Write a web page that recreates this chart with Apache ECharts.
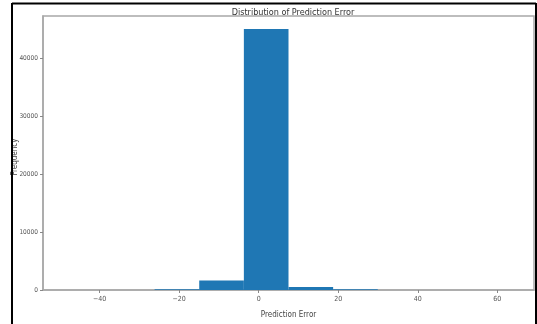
<!DOCTYPE html>
<html>
<head>
<meta charset="utf-8">
<script src="https://cdn.jsdelivr.net/npm/echarts@6/dist/echarts.min.js"></script>
<style>
html,body{margin:0;padding:0;background:#fff;}
#c{width:537px;height:324px;}
</style>
</head>
<body>
<div id="c"></div>
<script>
// Histogram bin edges (Prediction Error) and counts (Frequency)
const binEdges = [-48.6, -37.38, -26.16, -14.94, -3.72, 7.5, 18.72, 29.94, 41.16, 52.38, 63.6];
const counts = [5, 20, 150, 1650, 45100, 500, 120, 10, 3, 2];
const xTicks = [-40, -20, 0, 20, 40, 60];
const yTicks = [0, 10000, 20000, 30000, 40000];
const titleText = 'Distribution of Prediction Error';
const xLabel = 'Prediction Error';
const yLabel = 'Frequency';

const bins = counts.map((c, i) => [binEdges[i], binEdges[i + 1], c]);
const span = binEdges[binEdges.length - 1] - binEdges[0];
const xMin = binEdges[0] - 0.05 * span;
const xMax = binEdges[binEdges.length - 1] + 0.05 * span;
const yMax = Math.max(...counts) * 1.05;

const FONT = "'Liberation Sans Narrow', 'DejaVu Sans Condensed', sans-serif";
const chart = echarts.init(document.getElementById('c'), null, {renderer: 'canvas'});
chart.setOption({
  animation: false,
  backgroundColor: '#fff',
  title: {
    text: titleText, left: 288, top: 3, textAlign: 'center',
    textStyle: {fontFamily: FONT, fontSize: 9, fontWeight: 'normal', color: '#333'}
  },
  grid: {left: 43, top: 16, width: 491, height: 281, show: true, borderColor: '#a8a8a8', borderWidth: 1.5, backgroundColor: 'transparent'},
  xAxis: {
    type: 'value', min: xMin, max: xMax,
    name: xLabel, nameLocation: 'middle', nameGap: 21,
    nameTextStyle: {fontFamily: FONT, fontSize: 8, color: '#444'},
    axisLine: {show: true, onZero: false, lineStyle: {color: '#a8a8a8', width: 1.5}},
    axisTick: {show: true, length: 3, lineStyle: {color: '#888'}, customValues: xTicks},
    axisLabel: {fontFamily: FONT, fontSize: 7, color: '#555', margin: 6, customValues: xTicks,
      formatter: v => String(v).replace('-', '\u2212')},
    splitLine: {show: false}
  },
  yAxis: {
    type: 'value', min: 0, max: yMax,
    axisLine: {show: true, onZero: false, lineStyle: {color: '#a8a8a8', width: 1.5}},
    axisTick: {show: true, length: 3, lineStyle: {color: '#888'}, customValues: yTicks},
    axisLabel: {fontFamily: FONT, fontSize: 6.5, color: '#555', margin: 5, customValues: yTicks,
      formatter: v => String(v)},
    splitLine: {show: false}
  },
  series: [{
    type: 'custom',
    data: bins,
    encode: {x: [0, 1], y: 2},
    renderItem: function (params, api) {
      const p0 = api.coord([api.value(0), api.value(2)]);
      const p1 = api.coord([api.value(1), 0]);
      return {
        type: 'rect',
        shape: {x: p0[0], y: p0[1], width: p1[0] - p0[0], height: p1[1] - p0[1]},
        style: {fill: '#1f77b4'}
      };
    }
  }],
  graphic: [
    {type: 'text', x: 15, y: 157, rotation: Math.PI / 2, silent: true,
      style: {text: yLabel, font: "8px 'Liberation Sans Narrow', 'DejaVu Sans Condensed', sans-serif", fill: '#444', align: 'center', verticalAlign: 'middle'}},
    {type: 'line', shape: {x1: 12, y1: 3.5, x2: 536, y2: 3.5}, style: {stroke: '#000', lineWidth: 2}, silent: true},
    {type: 'line', shape: {x1: 12, y1: 3, x2: 12, y2: 324}, style: {stroke: '#000', lineWidth: 2}, silent: true},
    {type: 'line', shape: {x1: 536, y1: 3, x2: 536, y2: 324}, style: {stroke: '#000', lineWidth: 2}, silent: true}
  ]
});
</script>
</body>
</html>
